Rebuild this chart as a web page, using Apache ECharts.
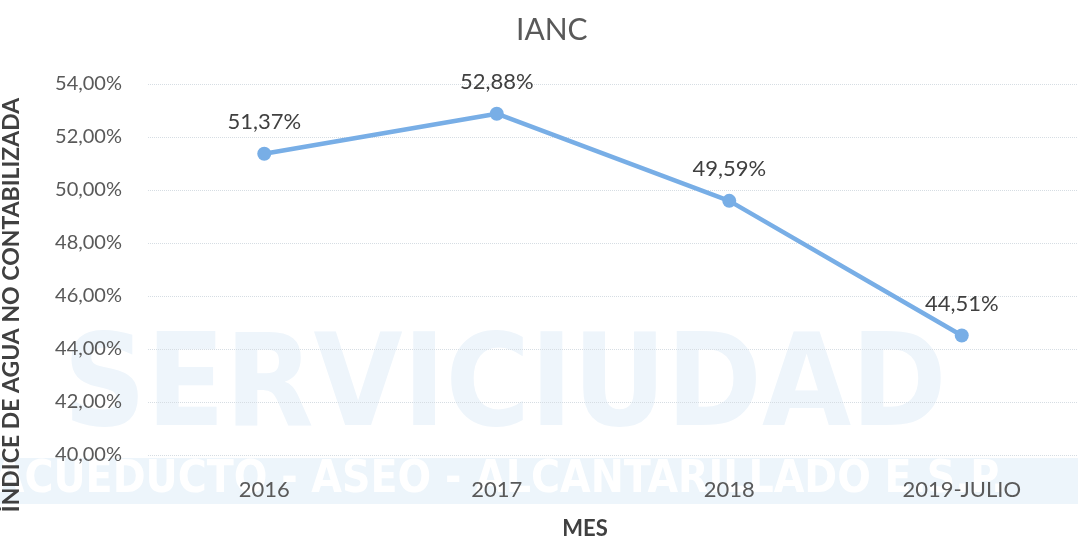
<!DOCTYPE html>
<html><head><meta charset="utf-8">
<script src="https://cdn.jsdelivr.net/npm/echarts@6/dist/echarts.min.js"></script>
<style>html,body{margin:0;padding:0;background:#fff}#c{width:1078px;height:539px}</style>
</head><body><div id="c"></div>
<script>
const categories = ['2016', '2017', '2018', '2019-JULIO'];
const ianc = [51.37, 52.88, 49.59, 44.51];
const yMin = 40, yMax = 54, yStep = 2;
const titleText = 'IANC';
const yName = 'ÍNDICE DE AGUA NO CONTABILIZADA';
const xName = 'MES';
const watermarkName = 'SERVICIUDAD';
const watermarkBand = 'ACUEDUCTO - ASEO - ALCANTARILLADO E.S.P.';

const fmt = v => v.toFixed(2).replace('.', ',') + '%';
const font = 'Lato, "Open Sans", sans-serif';
const chart = echarts.init(document.getElementById('c'));
chart.setOption({
  backgroundColor: '#ffffff',
  animation: false,
  title: { text: titleText, left: 511, top: 10,
    textStyle: { fontFamily: font, fontSize: 30, fontWeight: 'normal', color: '#595959' } },
  grid: { left: 148, top: 84, width: 948, height: 371 },
  graphic: [
    { type: 'rect', z: -20, silent: true, shape: { x: 0, y: 458, width: 1078, height: 46 },
      style: { fill: '#edf5fb' } },
    { type: 'text', z: -19, silent: true, x: 505, y: 392,
      style: { text: watermarkName, font: 'bold 128px "DejaVu Sans Condensed", "DejaVu Sans", sans-serif', fill: '#eef5fb', align: 'center', verticalAlign: 'middle' } },
    { type: 'text', z: -19, silent: true, x: 500, y: 481,
      style: { text: watermarkBand, font: 'bold 44px "DejaVu Sans Condensed", "DejaVu Sans", sans-serif', fill: '#ffffff', align: 'center', verticalAlign: 'middle' } },
    { type: 'text', x: 12, y: 305, rotation: Math.PI / 2,
      style: { text: yName, font: 'bold 23px ' + font, fill: '#404040', align: 'center', verticalAlign: 'middle' } },
    { type: 'text', x: 585, y: 529,
      style: { text: xName, font: 'bold 22px ' + font, fill: '#404040', align: 'center', verticalAlign: 'middle' } }
  ],
  xAxis: { type: 'category', data: categories, boundaryGap: true,
    axisLine: { show: false }, axisTick: { show: false },
    axisLabel: { margin: 24, fontFamily: font, fontSize: 22, color: '#595959' } },
  yAxis: { type: 'value', min: yMin, max: yMax, interval: yStep,
    axisLine: { show: false }, axisTick: { show: false },
    splitLine: { lineStyle: { color: '#d6dde3', type: 'dotted', width: 1 } },
    axisLabel: { margin: 26, fontFamily: font, fontSize: 20, color: '#595959', formatter: fmt } },
  series: [{ type: 'line', data: ianc, symbol: 'circle', symbolSize: 14,
    lineStyle: { color: '#78aee6', width: 4.5 }, itemStyle: { color: '#78aee6' },
    label: { show: true, position: 'top', distance: 14, fontFamily: font, fontSize: 22, color: '#404040', formatter: p => fmt(p.value) } }]
});
</script></body></html>
